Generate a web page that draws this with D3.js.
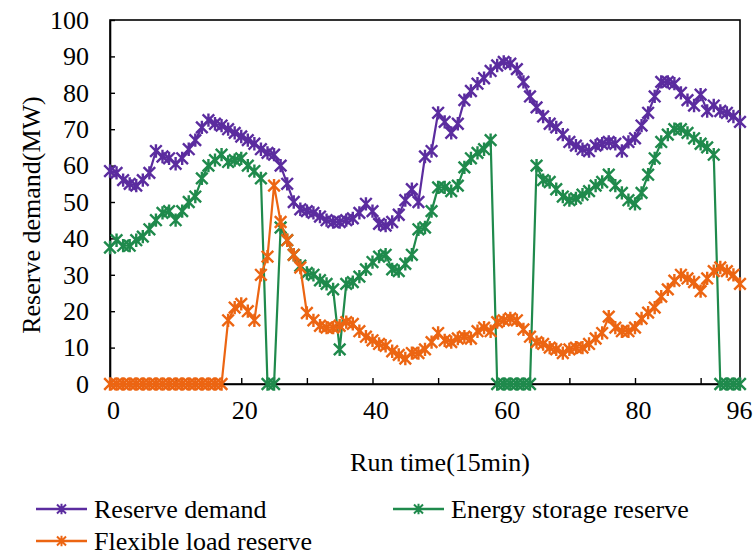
<!DOCTYPE html>
<html>
<head>
<meta charset="utf-8">
<script src="https://cdn.jsdelivr.net/npm/d3@7"></script>
<style>
  html, body { margin: 0; padding: 0; background: #fff; }
  svg { display: block; }
  text { font-family: "Liberation Serif", "Times New Roman", serif; fill: #000; }
</style>
</head>
<body>
<svg id="chart" width="753" height="557"></svg>
<script>
// ---- data ----
const xTicksMajor = [0, 20, 40, 60, 80, 96];
const xTicksMinor = [0, 10, 20, 30, 40, 50, 60, 70, 80, 90, 96];
const yTicks = [0, 10, 20, 30, 40, 50, 60, 70, 80, 90, 100];
const seriesNames = ["Reserve demand", "Energy storage reserve", "Flexible load reserve"];
const seriesColors = ["#5b2c9f", "#1f8a4c", "#ec6512"];

const reserveDemand = [
  58.5,58,56,55,54.5,56,58,64,62.5,62,
  60.5,62,64.5,67,70.5,72.5,71.5,71,70,69,
  68,67,66,64.5,63.5,63,60,55,50,48,
  47.5,47,46,45,44.5,44.5,45,45.5,47,49.5,
  47.5,44,43.5,44.5,46.5,50.5,53.5,50,62.5,64,
  74.5,72,69,71.5,78,80.5,82.5,84,86,87.5,
  88.5,88,86.5,83,79,76,73.5,71.5,70.5,68.5,
  66.5,65.5,64.5,64,65.5,66,66.5,66,64,66.5,
  67.5,71,74.5,79,83,83,82.5,80,78,76.5,
  79.5,75,76.5,75,74.5,73.5,72
];
const energyStorage = [
  37.5,39.5,38,38,39.5,40.5,42.5,45,47,47.5,
  45,47.5,50,51.5,56.5,60,61.5,63,61,61.5,
  62,60,58.5,56.5,0,0,43,39.5,35.5,32.5,
  30.5,30,28.5,27.5,26,9.5,27.5,28,29.5,31.5,
  33.5,35,35.5,31.5,31,33,35.5,42.5,43,47.5,
  54,54,53,54.5,59.5,62,63.5,64.5,67,0,
  0,0,0,0,0,60,56,55.5,53.5,51.5,
  50.5,51,52,53,54.5,55.5,57.5,54.5,52.5,50.5,
  49.5,52.5,57.5,62,66.5,68.5,70,70,69,67.5,
  66,65,63,0,0,0,0
];
const flexibleLoad = [
  0,0,0,0,0,0,0,0,0,0,
  0,0,0,0,0,0,0,0,17.5,21,
  22,20,17.5,30,35,54.5,44.5,39.5,35.5,32,
  19.5,17.5,16,15.5,15.5,16,17,16.5,14.5,13,
  12,11,10.5,9,8,7,8.5,8.5,9.5,11.5,
  14,12,11.5,12.5,13,12.5,14.5,15.5,14.5,17,
  17.5,18,17.5,15,13,11.5,11,10,9.5,8.5,
  9.5,10,10,11,12.5,14,18.5,15.5,14.5,14.5,
  15.5,18,19.6,21,24,26,28.4,30,29,28,
  25.5,29,31,32,31,30,27.5
];
const allSeries = [reserveDemand, energyStorage, flexibleLoad];

// ---- layout ----
const svg = d3.select("#chart");
const plot = { left: 110, right: 740, top: 20, bottom: 384 };
const x = d3.scaleLinear().domain([0, 96]).range([plot.left, plot.right]);
const y = d3.scaleLinear().domain([0, 100]).range([plot.bottom, plot.top]);
const FS = 26;

// frame
svg.append("rect")
  .attr("x", plot.left).attr("y", plot.top)
  .attr("width", plot.right - plot.left).attr("height", plot.bottom - plot.top)
  .attr("fill", "none").attr("stroke", "#000").attr("stroke-width", 1.6);

// y axis (ticks inside)
const yAxis = d3.axisLeft(y).tickValues(yTicks).tickSizeInner(-5).tickSizeOuter(0).tickPadding(21);
const gy = svg.append("g").attr("transform", `translate(${plot.left},0)`).call(yAxis);
gy.select(".domain").attr("stroke", "#000").attr("stroke-width", 1.6);
gy.selectAll(".tick line").attr("stroke", "#000").attr("stroke-width", 1.4);
gy.selectAll(".tick text").style("font-size", FS + "px").attr("fill", "#000");

// x axis (ticks inside)
const xAxis = d3.axisBottom(x).tickValues(xTicksMinor).tickSizeInner(-6).tickSizeOuter(0)
  .tickPadding(17).tickFormat(d => xTicksMajor.includes(d) ? d : "");
const gx = svg.append("g").attr("transform", `translate(0,${plot.bottom})`).call(xAxis);
gx.select(".domain").attr("stroke", "#000").attr("stroke-width", 1.6);
gx.selectAll(".tick line").attr("stroke", "#000").attr("stroke-width", 1.4);
gx.selectAll(".tick text").style("font-size", FS + "px").attr("fill", "#000")
  .attr("dx", d => d === 96 ? -1 : 3);

// axis titles
svg.append("text")
  .attr("transform", `translate(40,${(plot.top + plot.bottom) / 2 + 13}) rotate(-90)`)
  .attr("text-anchor", "middle").style("font-size", FS + "px")
  .text("Reserve demand(MW)");
svg.append("text")
  .attr("x", 440).attr("y", 471).attr("text-anchor", "middle")
  .style("font-size", FS + "px").text("Run time(15min)");

// star marker path (X + vertical bar)
function starPath(s) {
  return `M${-s},${-s}L${s},${s}M${-s},${s}L${s},${-s}M0,${-s * 1.15}L0,${s * 1.15}`;
}

const line = d3.line().x((d, i) => x(i)).y(d => y(d));
allSeries.forEach((data, k) => {
  const g = svg.append("g");
  g.append("path").datum(data)
    .attr("d", line).attr("fill", "none")
    .attr("stroke", seriesColors[k]).attr("stroke-width", 2.2);
  g.selectAll("path.m").data(data).enter().append("path")
    .attr("class", "m")
    .attr("transform", (d, i) => `translate(${x(i)},${y(d)})`)
    .attr("d", starPath(5.8))
    .attr("fill", "none").attr("stroke", seriesColors[k]).attr("stroke-width", 2.4);
});

// legend
const legendItems = [
  { k: 0, x: 36, y: 509 },
  { k: 1, x: 393, y: 509 },
  { k: 2, x: 36, y: 541 }
];
legendItems.forEach(it => {
  const g = svg.append("g").attr("transform", `translate(${it.x},${it.y})`);
  g.append("line").attr("x1", 0).attr("x2", 51).attr("y1", 0).attr("y2", 0)
    .attr("stroke", seriesColors[it.k]).attr("stroke-width", 2.5);
  g.append("path").attr("transform", "translate(25.5,0)").attr("d", starPath(4.5))
    .attr("fill", "none").attr("stroke", seriesColors[it.k]).attr("stroke-width", 2);
  g.append("text").attr("x", 58).attr("y", 9).style("font-size", FS + "px")
    .text(seriesNames[it.k]);
});
</script>
</body>
</html>
